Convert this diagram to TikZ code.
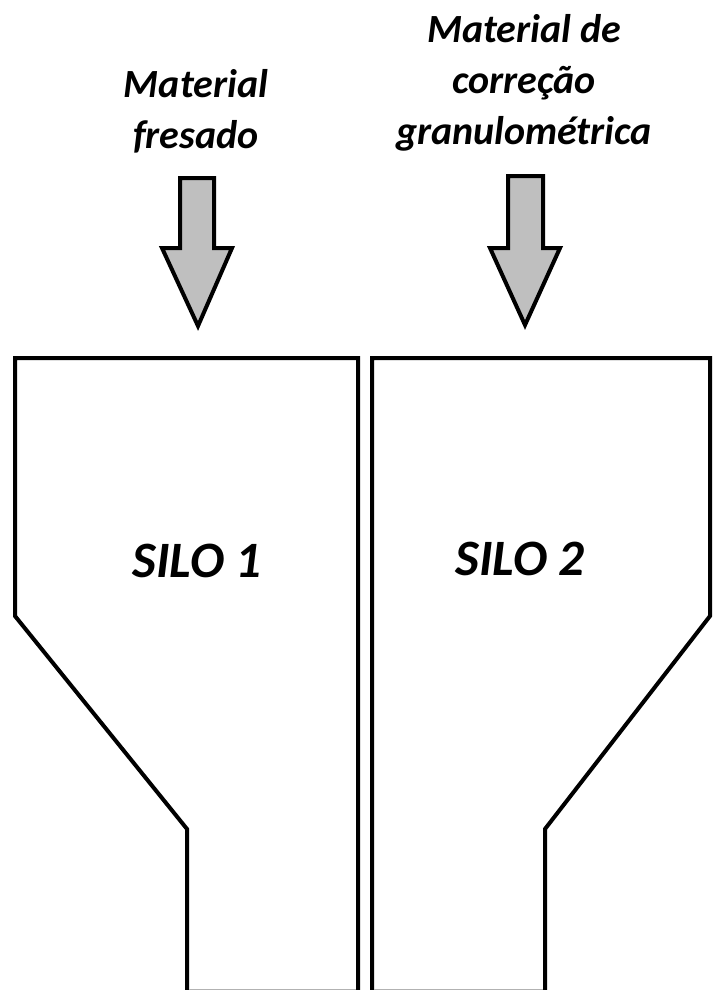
\documentclass[tikz,border=0pt]{standalone}
\usepackage{fontspec}
\setmainfont{Carlito}
\begin{document}
\begin{tikzpicture}[x=1pt,y=-1pt,
  wall/.style={draw=black,line width=4pt,miter limit=10},
  feed/.style={draw=black,fill=gray!50,line width=4pt,line join=miter},
  lbl/.style={font=\fontsize{40}{51}\selectfont\bfseries\itshape,align=center,inner sep=0pt},
  silolbl/.style={font=\fontsize{51}{60}\selectfont\bfseries\itshape,inner sep=0pt}]
\useasboundingbox[fill=white] (0,0) rectangle (712,990);

% feed labels
\node[lbl,anchor=base] (mat1) at (196,148) {Material\\fresado};
\node[lbl,anchor=base] (mat2) at (524,144) {Material de\\correção\\granulométrica};

% feed arrows
\draw[feed] (180,178) -- (214,178) -- (214,248) -- (232,248) -- (198,326)
  -- (162,248) -- (180,248) -- cycle;
\draw[feed] (508,176) -- (543,176) -- (543,248) -- (560,248) -- (525,325)
  -- (490,248) -- (508,248) -- cycle;

% silo 1
\draw[wall] (187,992) -- (187,829) -- (15,616) -- (15,358) -- (358,358) -- (358,992);
% silo 2
\draw[wall] (372,992) -- (372,358) -- (710,358) -- (710,616) -- (545,829) -- (545,992);

% outlet edges
\draw[gray!60,line width=1pt] (189,989) -- (356,989);
\draw[gray!60,line width=1pt] (374,989) -- (543,989);

\node[silolbl] (s1) at (197,561) {SILO 1};
\node[silolbl] (s2) at (520,559) {SILO 2};
\end{tikzpicture}
\end{document}
